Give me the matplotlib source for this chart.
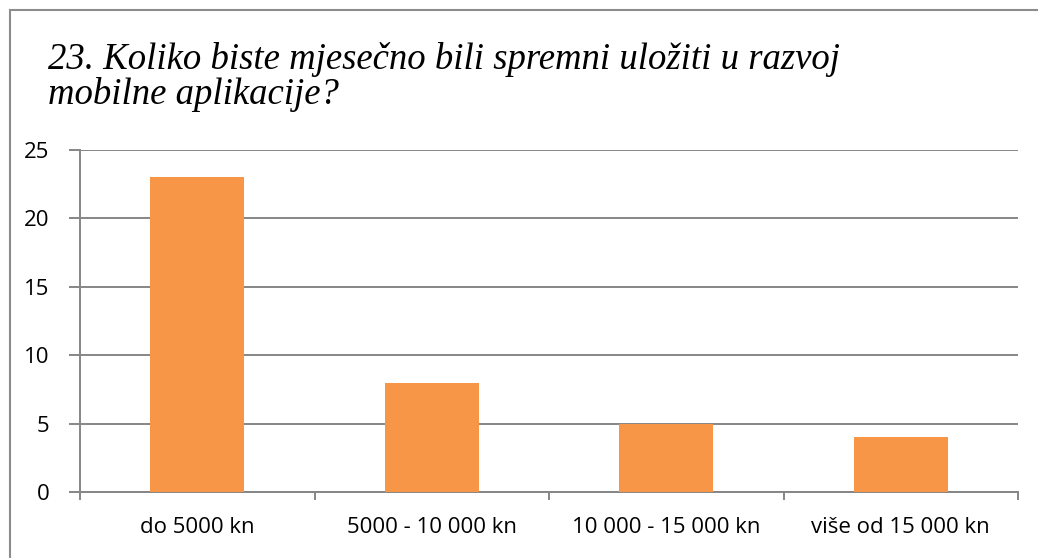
import matplotlib
matplotlib.use('Agg')
import matplotlib.pyplot as plt
from matplotlib.patches import Rectangle
from matplotlib.ticker import FixedLocator

categories = ["do 5000 kn", "5000 - 10 000 kn", "10 000 - 15 000 kn", "više od 15 000 kn"]
counts = [23, 8, 5, 4]
y_ticks = [0, 5, 10, 15, 20, 25]

title = "23. Koliko biste mjesečno bili spremni uložiti u razvoj\nmobilne aplikacije?"

W, H = 1038, 558
fig = plt.figure(figsize=(W / 100, H / 100), dpi=100)

# outer chart border
fig.patches.append(Rectangle((10 / W, -0.1), 1.2, (H - 10) / H + 0.1, transform=fig.transFigure,
                             fill=False, edgecolor='#8c8c8c', linewidth=1.5))

ax = fig.add_axes([80 / W, (H - 492) / H, (1018 - 80) / W, (492 - 150) / H])

x = list(range(len(categories)))
ax.bar(x, counts, width=0.4, color='#F79646', zorder=3)

ax.set_xlim(-0.5, len(categories) - 0.5)
ax.set_ylim(0, 25)
ax.set_yticks(y_ticks)
ax.yaxis.grid(True, color='#868686', linewidth=1.4, zorder=0)

ax.set_xticks(x)
ax.set_xticklabels(categories)
ax.xaxis.set_minor_locator(FixedLocator([-0.5, 0.5, 1.5, 2.5, 3.5]))
ax.tick_params(axis='x', which='major', length=0, pad=18)
ax.tick_params(axis='x', which='minor', length=6, width=1.4, color='#868686')
ax.tick_params(axis='y', length=8, width=1.4, color='#868686', pad=14)

for side in ['top', 'right']:
    ax.spines[side].set_visible(False)
for side in ['left', 'bottom']:
    ax.spines[side].set_color('#868686')
    ax.spines[side].set_linewidth(1.4)

for lbl in ax.get_xticklabels() + ax.get_yticklabels():
    lbl.set_fontfamily('Open Sans')
    lbl.set_fontsize(16)

fig.text(48 / W, 1 - 42 / H, title, fontfamily='Liberation Serif', fontstyle='italic',
         fontsize=26.5, va='top', ha='left', linespacing=1.0)

fig.savefig('out.png', dpi=100)
